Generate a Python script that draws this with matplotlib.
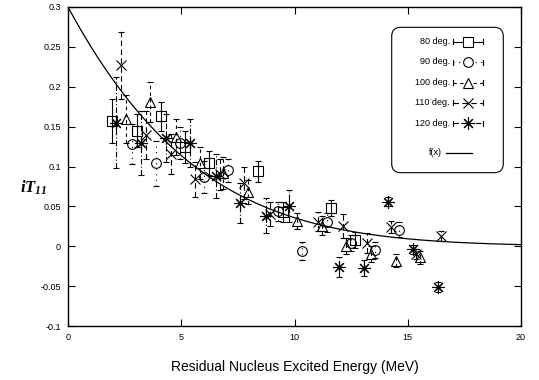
import numpy as np
import matplotlib
matplotlib.use("Agg")
import matplotlib.pyplot as plt
from matplotlib.patches import FancyBboxPatch

plt.rcParams['font.family'] = ['Liberation Sans', 'DejaVu Sans']
plt.rcParams['mathtext.fontset'] = 'custom'
plt.rcParams['mathtext.it'] = 'Liberation Serif:bold:italic'
plt.rcParams['mathtext.rm'] = 'Liberation Serif:bold:italic'

# ---- measured analysing power iT11 vs. residual excitation energy ----
e80 = [1.96, 3.03, 4.10, 5.17, 6.24, 8.40, 9.50, 11.60, 12.67]
t80 = [0.157, 0.145, 0.163, 0.125, 0.104, 0.094, 0.043, 0.048, 0.008]
d80 = [0.028, 0.021, 0.018, 0.020, 0.015, 0.013, 0.012, 0.010, 0.010]

e90 = [2.81, 3.89, 4.94, 6.00, 7.08, 9.26, 10.32, 11.42, 12.48, 13.55, 14.63]
t90 = [0.128, 0.104, 0.129, 0.087, 0.095, 0.044, -0.006, 0.030, 0.004, -0.005, 0.021]
d90 = [0.025, 0.028, 0.020, 0.020, 0.015, 0.012, 0.011, 0.012, 0.010, 0.010, 0.010]

e100 = [2.56, 3.62, 4.75, 5.83, 6.85, 7.96, 10.12, 11.20, 12.27, 13.36, 14.47, 15.54]
t100 = [0.160, 0.181, 0.137, 0.104, 0.092, 0.068, 0.032, 0.026, 0.000, -0.010, -0.018, -0.014]
d100 = [0.030, 0.025, 0.022, 0.020, 0.020, 0.015, 0.010, 0.012, 0.010, 0.010, 0.008, 0.008]

e110 = [2.33, 3.44, 4.55, 5.61, 6.70, 7.78, 8.90, 11.05, 12.13, 13.22, 14.26, 15.36, 16.48]
t110 = [0.227, 0.139, 0.116, 0.084, 0.090, 0.079, 0.041, 0.031, 0.025, 0.004, 0.024, -0.010, 0.013]
d110 = [0.042, 0.030, 0.025, 0.022, 0.020, 0.020, 0.015, 0.012, 0.015, 0.012, 0.008, 0.006, 0.006]

e120 = [2.10, 3.22, 4.33, 5.39, 6.53, 7.59, 8.73, 9.77, 11.98, 13.07, 14.11, 15.22, 16.32]
t120 = [0.155, 0.129, 0.136, 0.130, 0.088, 0.054, 0.038, 0.050, -0.026, -0.027, 0.056, -0.004, -0.051]
d120 = [0.057, 0.040, 0.030, 0.030, 0.028, 0.025, 0.022, 0.020, 0.012, 0.010, 0.006, 0.006, 0.006]

# fitted curve f(x) = A * exp(-(B x + C x^2))
fit_A, fit_B, fit_C = 0.30, 0.1752, 0.00375

xticks = [0, 5, 10, 15, 20]
yticks = [-0.1, -0.05, 0, 0.05, 0.1, 0.15, 0.2, 0.25, 0.3]
ytick_labels = ['-0.1', '-0.05', '0', '0.05', '0.1', '0.15', '0.2', '0.25', '0.3']

STAR = (8, 2, 0)
series = [
    ("80 deg.",  e80,  t80,  d80,  's',  7.0, '-'),
    ("90 deg.",  e90,  t90,  d90,  'o',  7.0, (0, (1, 4))),
    ("100 deg.", e100, t100, d100, '^',  7.0, (0, (3, 3))),
    ("110 deg.", e110, t110, d110, 'x',  7.5, (0, (5, 3))),
    ("120 deg.", e120, t120, d120, STAR, 9.0, (0, (5, 2, 1, 2))),
]


def face(mk):
    return 'black' if mk in ('x', STAR) else 'none'


fig = plt.figure(figsize=(5.39, 3.80), dpi=100)
ax = fig.add_axes([68/539, 1-326/380, 453/539, 319/380])

for name, ex, ty, dy, mk, ms, ls in series:
    eb = ax.errorbar(ex, ty, yerr=dy, fmt='none', ecolor='black',
                     elinewidth=0.8, capsize=2, capthick=0.8)
    for lc in eb.lines[2]:
        lc.set_linestyle(ls)
    ax.plot(ex, ty, linestyle='none', marker=mk, markersize=ms,
            markerfacecolor=face(mk), markeredgecolor='black',
            markeredgewidth=0.8, zorder=3)

xs = np.linspace(0, 20, 300)
ax.plot(xs, fit_A * np.exp(-(fit_B * xs + fit_C * xs ** 2)), color='black', lw=0.9)

ax.set_xlim(0, 20)
ax.set_ylim(-0.1, 0.3)
ax.set_xticks(xticks)
ax.set_xticklabels([str(v) for v in xticks])
ax.set_yticks(yticks)
ax.set_yticklabels(ytick_labels)
ax.tick_params(direction='in', length=5, width=0.8, labelsize=6.5,
               top=True, right=True, pad=5)
for sp in ax.spines.values():
    sp.set_linewidth(1.0)

ax.set_xlabel("Residual Nucleus Excited Energy (MeV)", fontsize=10, labelpad=13)
fig.text(34/539, 1-188/380, r'$iT_{11}$', fontsize=12, ha='center', va='center')

# key box
box = FancyBboxPatch((3.917, 2.073), 1.116, 1.454,
                     boxstyle="round,pad=0,rounding_size=0.09",
                     transform=fig.dpi_scale_trans, facecolor='white',
                     edgecolor='black', linewidth=0.8, zorder=5)
fig.patches.append(box)

rows_px = [41.7, 62.0, 82.7, 102.7, 123.3]
for (name, ex, ty, dy, mk, ms, ls), ry in zip(series, rows_px):
    yf = 1 - ry / 380
    fig.text(450/539, yf, name, fontsize=6.5, ha='right', va='center', zorder=6)
    x0, x1 = 453/539, 482.7/539
    fig.add_artist(plt.Line2D([x0, x1], [yf, yf], color='black', lw=0.8,
                              linestyle=ls, zorder=6))
    for xc in (x0, x1):
        fig.add_artist(plt.Line2D([xc, xc], [yf - 2.5/380, yf + 2.5/380],
                                  color='black', lw=0.8, zorder=6))
    fig.add_artist(plt.Line2D([(x0 + x1) / 2], [yf], marker=mk, markersize=ms,
                              markerfacecolor='white' if face(mk) == 'none' else 'black',
                              markeredgecolor='black', markeredgewidth=0.8,
                              linestyle='none', zorder=7))

yf = 1 - 152.7 / 380
fig.text(441.7/539, yf, "f(x)", fontsize=6.5, ha='right', va='center', zorder=6)
fig.add_artist(plt.Line2D([445.7/539, 472.3/539], [yf, yf], color='black',
                          lw=0.9, zorder=6))

fig.savefig("out.png", dpi=100)
